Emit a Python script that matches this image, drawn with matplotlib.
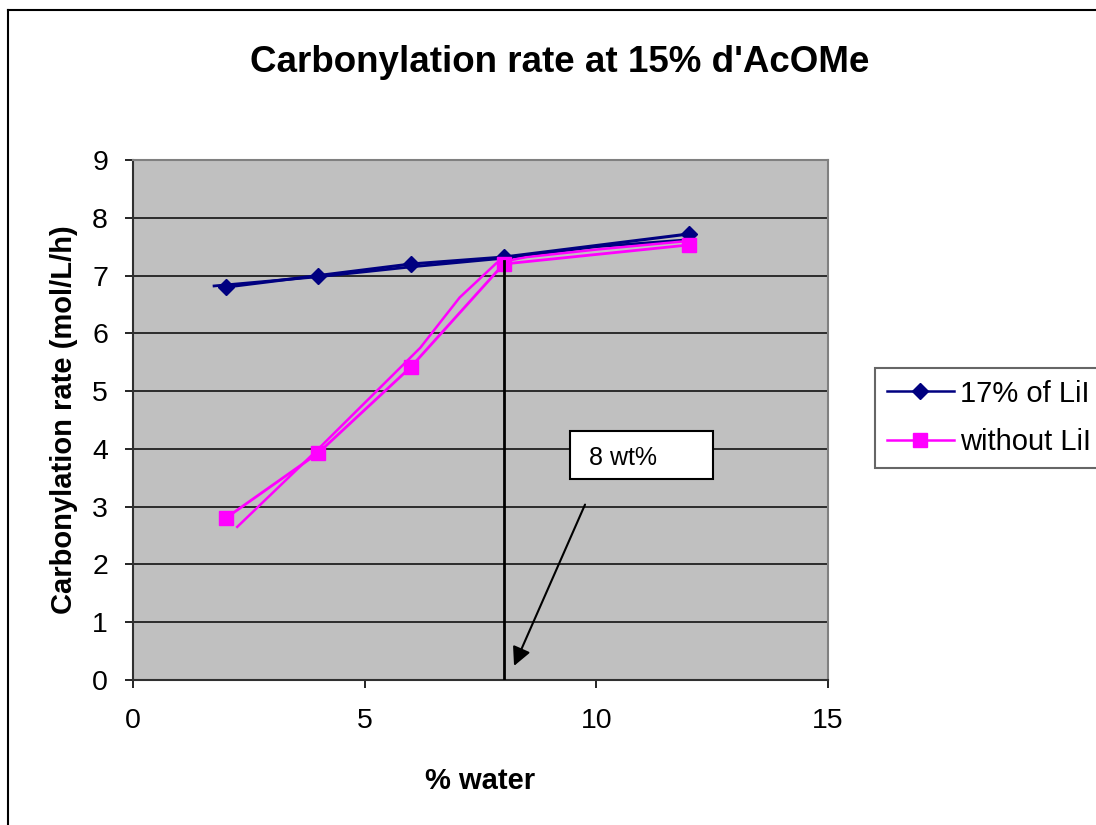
import matplotlib.pyplot as plt
from matplotlib.lines import Line2D
from matplotlib.patches import Rectangle

plt.rcParams['font.family'] = ['Liberation Sans', 'DejaVu Sans']

# data
water = [2, 4, 6, 8, 12]
rate_lii = [6.8, 7.0, 7.2, 7.32, 7.72]
rate_no_lii = [2.8, 3.93, 5.42, 7.2, 7.53]

# second (unmarked) curves drawn next to each series
trend_lii_x = [1.75, 4, 6, 8, 10, 12]
trend_lii_y = [6.82, 6.98, 7.15, 7.3, 7.5, 7.62]
trend_no_lii_x = [2.25, 4, 6.2, 7.05, 7.85, 8.5, 10, 12]
trend_no_lii_y = [2.65, 4.0, 5.75, 6.62, 7.22, 7.32, 7.45, 7.6]

navy = '#000080'
pink = '#FF00FF'

fig = plt.figure(figsize=(10.96, 8.25), dpi=100)
ax = fig.add_axes([133/1096, 1-680/825, (828-133)/1096, (680-160)/825])
ax.set_facecolor('#C0C0C0')

ax.plot(trend_lii_x, trend_lii_y, color=navy, lw=2, zorder=3)
ax.plot(trend_no_lii_x, trend_no_lii_y, color=pink, lw=1.8, zorder=3)
ax.plot(water, rate_lii, color=navy, lw=2.2, marker='D', ms=8.5, zorder=4)
ax.plot(water, rate_no_lii, color=pink, lw=2, marker='s', ms=10, zorder=4)

ax.set_xlim(0, 15)
ax.set_ylim(0, 9)
ax.set_xticks([0, 5, 10, 15])
ax.set_yticks(range(0, 10))
ax.grid(axis='y', color='#202020', lw=1.3)
ax.set_axisbelow(True)
ax.tick_params(direction='out', length=6, width=1.2, labelsize=20.5, colors='black')
ax.tick_params(axis='x', pad=14)
ax.tick_params(axis='y', pad=12)
for s in ['top', 'right']:
    ax.spines[s].set_color('#808080')
    ax.spines[s].set_linewidth(1.5)
for s in ['left', 'bottom']:
    ax.spines[s].set_color('#303030')
    ax.spines[s].set_linewidth(1.5)

ax.set_xlabel('% water', fontsize=21, fontweight='bold', labelpad=24)
ax.set_ylabel('Carbonylation rate (mol/L/h)', fontsize=21, fontweight='bold', labelpad=10)

# 8 wt% marker line, box and arrow
ax.plot([8, 8], [0, 7.25], color='black', lw=2, zorder=5)
ax.add_patch(Rectangle((9.43, 3.48), 3.09, 0.83, facecolor='white', edgecolor='black', lw=1.5, zorder=6))
ax.text(9.85, 3.84, '8 wt%', fontsize=18, va='center', ha='left', zorder=7)
ax.annotate('', xy=(8.2, 0.2), xytext=(9.78, 3.08),
            arrowprops=dict(arrowstyle='-|>', color='black', lw=1.5, mutation_scale=28), zorder=7)

fig.text(560/1096, 1-62/825, "Carbonylation rate at 15% d'AcOMe", fontsize=26.5,
         fontweight='bold', ha='center', va='center')

handles = [Line2D([], [], color=navy, lw=1.8, marker='D', ms=8.5),
           Line2D([], [], color=pink, lw=1.8, marker='s', ms=10)]
leg = fig.legend(handles, ['17% of LiI', 'without LiI'], loc='upper left',
                 bbox_to_anchor=(875/1096, 1-368/825), fontsize=21, frameon=True,
                 fancybox=False, edgecolor='#404040', handlelength=2.3,
                 handletextpad=0.2, borderpad=0.4, labelspacing=0.7, borderaxespad=0)
leg.get_frame().set_linewidth(1.5)

# chart area border
fig.add_artist(Line2D([8/1096, 8/1096], [0, 1-10/825], color='black', lw=1.5))
fig.add_artist(Line2D([8/1096, 1], [1-10/825, 1-10/825], color='black', lw=1.5))

fig.savefig('out.png', dpi=100)
